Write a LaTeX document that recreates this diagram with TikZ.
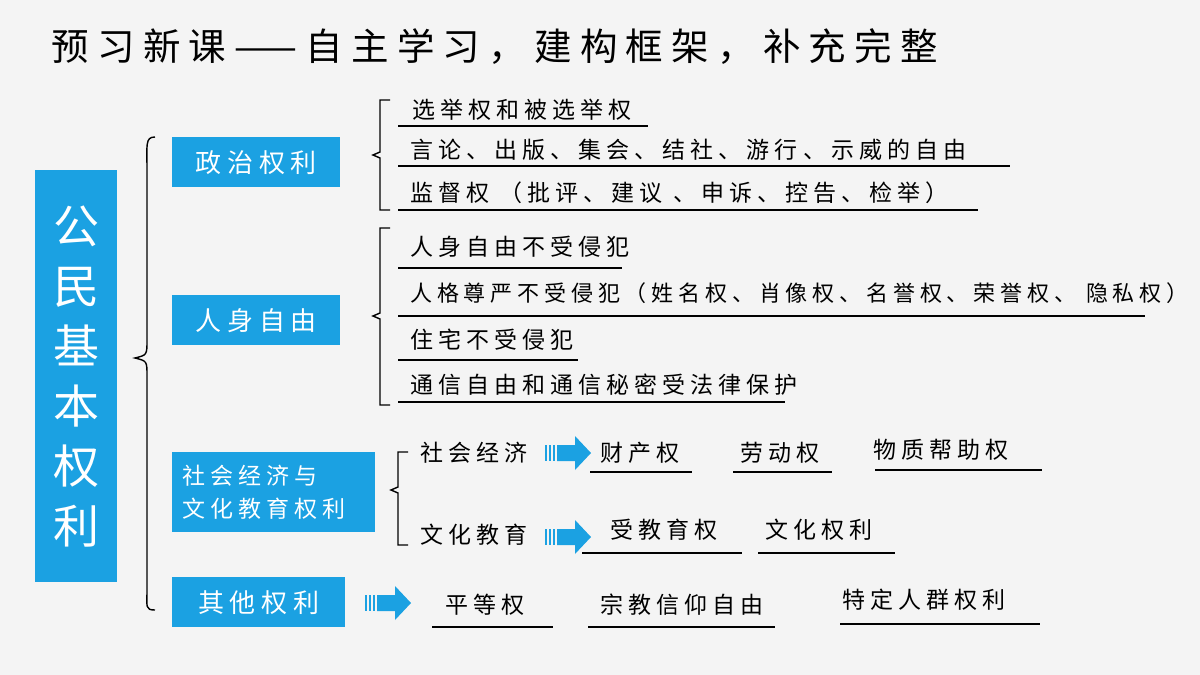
\documentclass[tikz,border=0pt]{standalone}
\usepackage{fontspec}
\setmainfont[LetterSpace=22]{Noto Sans CJK SC}
\definecolor{bl}{RGB}{27,161,226}
\definecolor{bg}{RGB}{244,244,244}
\begin{document}
\begin{tikzpicture}[x=1pt,y=-1pt,
  it/.style={anchor=west,inner sep=0pt,font=\fontsize{23}{24}\selectfont},
  ul/.style={line width=1.3pt},
  br/.style={line width=1.4pt},
  box/.style={fill=bl,text=white,font=\fontsize{26}{30}\selectfont,align=left,inner sep=0pt}]
\useasboundingbox[fill=bg] (0,0) rectangle (1200,675);
\node[anchor=west,font=\fontsize{37.5}{40}\selectfont] (title) at (48,47) {预习新课——自主学习，建构框架，补充完整};
\node[box,minimum width=82,minimum height=412,anchor=north west,font=\fontsize{46}{60}\selectfont,align=center] (main) at (35,170) {公\\民\\基\\本\\权\\利};
\node[box,minimum width=168,minimum height=50,anchor=north west] (b1) at (172,137) {政治权利};
\node[box,minimum width=168,minimum height=50,anchor=north west] (b2) at (172,295) {人身自由};
\node[box,text width=203,minimum height=80,anchor=north west,font=\fontsize{23}{33}\selectfont] (b3) at (172,452) {\hspace*{10pt}社会经济与\\\hspace*{10pt}文化教育权利};
\node[box,minimum width=173,minimum height=50,anchor=north west] (b4) at (172,577) {其他权利};
% braces
\coordinate (m0) at (135,358);
\draw[br] (155,137) .. controls (145,137) and (147,145) .. (147,170) -- (147,340) .. controls (147,355) .. (m0) .. controls (147,361) .. (147,376) -- (147,590) .. controls (147,607) and (145,610) .. (155,610);
\newcommand{\brc}[4]{\draw[br] (#1+10,#2) -- (#1,#2) -- (#1,#4-3) -- (#1-7,#4) -- (#1,#4+3) -- (#1,#3) -- (#1+10,#3);}
\brc{380}{100}{210}{155}
\brc{380}{228}{405}{316}
\brc{398}{452}{545}{490}
% items group 1
\node[it] (a1) at (412,110) {选举权和被选举权}; \draw[ul] (398,126) -- (648,126);
\node[it] (a2) at (410,150) {言论、出版、集会、结社、游行、示威的自由}; \draw[ul] (398,166) -- (1010,166);
\node[it] (a3) at (410,193) {监督权 （批评、建议 、申诉、控告、检举）}; \draw[ul] (398,210) -- (978,210);
% group 2
\node[it] (c1) at (410,247) {人身自由不受侵犯}; \draw[ul] (398,268) -- (622,268);
\node[it,font=\fontsize{22}{24}\selectfont] (c2) at (410,293) {人格尊严不受侵犯（姓名权、肖像权、名誉权、荣誉权、 隐私权）}; \draw[ul] (398,316) -- (1145,316);
\node[it] (c3) at (410,340) {住宅不受侵犯}; \draw[ul] (398,360) -- (578,360);
\node[it] (c4) at (410,385) {通信自由和通信秘密受法律保护}; \draw[ul] (398,402) -- (785,402);
% group 3
\newcommand{\barrow}[2]{%
 \fill[bl] (#1+12,#2-8) -- (#1+30,#2-8) -- (#1+30,#2-17) -- (#1+46,#2) -- (#1+30,#2+17) -- (#1+30,#2+8) -- (#1+12,#2+8) -- cycle;
 \foreach \d in {0,4,8} \fill[bl] (#1+\d,#2-8) rectangle (#1+\d+2,#2+8);}
\node[it] (s1) at (420,453) {社会经济};
\barrow{545}{453}
\node[it] (p1) at (600,453) {财产权}; \draw[ul] (590,472) -- (692,472);
\node[it] (p2) at (740,453) {劳动权}; \draw[ul] (733,472) -- (832,472);
\node[it] (p3) at (873,450) {物质帮助权}; \draw[ul] (875,470) -- (1042,470);
\node[it] (s2) at (420,535) {文化教育};
\barrow{545}{537}
\node[it] (q1) at (610,530) {受教育权}; \draw[ul] (582,553) -- (742,553);
\node[it] (q2) at (765,530) {文化权利}; \draw[ul] (758,553) -- (895,553);
% others
\barrow{365}{603}
\node[it] (r1) at (445,605) {平等权}; \draw[ul] (432,627) -- (553,627);
\node[it] (r2) at (600,605) {宗教信仰自由}; \draw[ul] (588,627) -- (775,627);
\node[it] (r3) at (842,600) {特定人群权利}; \draw[ul] (840,624) -- (1040,624);
\end{tikzpicture}
\end{document}
